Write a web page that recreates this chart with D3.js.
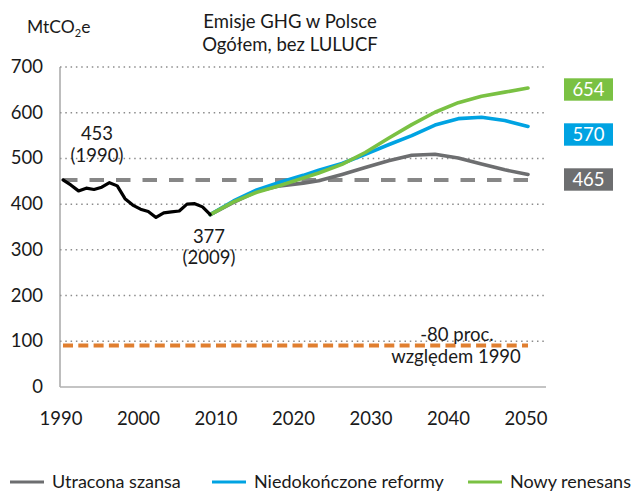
<!DOCTYPE html>
<html>
<head>
<meta charset="utf-8">
<script src="https://cdn.jsdelivr.net/npm/d3@7"></script>
<style>
  html, body { margin: 0; padding: 0; background: #fff; }
  svg { display: block; font-family: Lato, "Noto Sans", sans-serif; }
</style>
</head>
<body>
<svg id="chart" width="641" height="492"></svg>
<script>
// Historical emissions, 1990–2009 (MtCO2e)
const histYears = [1990,1991,1992,1993,1994,1995,1996,1997,1998,1999,2000,2001,2002,2003,2004,2005,2006,2007,2008,2009];
const histValues = [453,442,429,435,432,437,447,440,412,398,389,384,371,381,383,385,400,401,394,377];

// Scenario projections 2009–2050
const projYears = [2009,2012,2015,2018,2021,2023,2026,2029,2032,2035,2038,2041,2044,2047,2050];
const lostChance = [377,404,428,440,446,451,465,480,495,507,509,501,488,475,465];
const unfinishedReforms = [377,407,431,448,463,474,489,509,530,550,573,587,590,583,570];
const newRenaissance = [377,405,426,441,457,468,487,513,544,574,601,622,636,645,654];

const seriesNames = ["Utracona szansa", "Niedokończone reformy", "Nowy renesans"];
const seriesColors = ["#6d6e70", "#00a3e2", "#7ac143"];
const seriesValues = [lostChance, unfinishedReforms, newRenaissance];

const yTicks = [0,100,200,300,400,500,600,700];
const xTicks = [1990,2000,2010,2020,2030,2040,2050];

const baseline1990 = 453;
const target = baseline1990 * 0.2;  // -80% vs 1990

const svg = d3.select("#chart");

const x = d3.scaleLinear().domain([1990, 2050]).range([63, 528]);
const y = d3.scaleLinear().domain([0, 700]).range([387, 67]);
const plotLeft = 60, plotRight = 546;

// Dotted horizontal gridlines
svg.append("g").selectAll("line")
  .data(yTicks.filter(d => d > 0))
  .join("line")
  .attr("x1", plotLeft).attr("x2", plotRight)
  .attr("y1", d => y(d)).attr("y2", d => y(d))
  .attr("stroke", "#8c8c8c")
  .attr("stroke-width", 1.5)
  .attr("stroke-dasharray", "1.5,3.8");

// Axes lines
svg.append("line")
  .attr("x1", plotLeft).attr("x2", plotLeft)
  .attr("y1", y(700)).attr("y2", y(0))
  .attr("stroke", "#9a9a9a").attr("stroke-width", 1.3);
svg.append("line")
  .attr("x1", plotLeft).attr("x2", plotRight)
  .attr("y1", y(0)).attr("y2", y(0))
  .attr("stroke", "#b0b0b0").attr("stroke-width", 1.5);

// Y tick labels
svg.append("g").selectAll("text")
  .data(yTicks)
  .join("text")
  .attr("x", 43)
  .attr("y", d => y(d) + 6)
  .attr("text-anchor", "end")
  .attr("font-size", 18.5)
  .attr("fill", "#1a1a1a")
  .text(d => d);

// X tick labels
svg.append("g").selectAll("text")
  .data(xTicks)
  .join("text")
  .attr("x", d => x(d) - 2)
  .attr("y", 425)
  .attr("text-anchor", "middle")
  .attr("font-size", 18.5)
  .attr("fill", "#1a1a1a")
  .text(d => d);

// Unit label
const unit = svg.append("text")
  .attr("x", 27).attr("y", 33)
  .attr("font-size", 17.5)
  .attr("fill", "#1a1a1a");
unit.append("tspan").text("MtCO");
unit.append("tspan").attr("font-size", 11).attr("dy", 4).text("2");
unit.append("tspan").attr("dy", -4).text("e");

// Title
const title = svg.append("text")
  .attr("text-anchor", "middle")
  .attr("font-size", 18.5)
  .attr("fill", "#1a1a1a");
title.append("tspan").attr("x", 290).attr("y", 28).text("Emisje GHG w Polsce");
title.append("tspan").attr("x", 290).attr("y", 51).text("Ogółem, bez LULUCF");

// 1990 reference level (dashed gray)
svg.append("line")
  .attr("x1", x(1990)).attr("x2", x(2050))
  .attr("y1", y(baseline1990)).attr("y2", y(baseline1990))
  .attr("stroke", "#878787")
  .attr("stroke-width", 4)
  .attr("stroke-dasharray", "14.5,12");

// -80% target (dashed orange)
svg.append("line")
  .attr("x1", x(1990)).attr("x2", x(2050))
  .attr("y1", y(target)).attr("y2", y(target))
  .attr("stroke", "#e07f30")
  .attr("stroke-width", 4)
  .attr("stroke-dasharray", "10,5.3");

const line = d3.line().x(d => x(d[0])).y(d => y(d[1]));

// Scenario lines
seriesValues.forEach((vals, i) => {
  svg.append("path")
    .datum(projYears.map((yr, j) => [yr, vals[j]]))
    .attr("d", line)
    .attr("fill", "none")
    .attr("stroke", seriesColors[i])
    .attr("stroke-width", 3.6)
    .attr("stroke-linejoin", "round")
    .attr("stroke-linecap", "round");
});

// Historical line
svg.append("path")
  .datum(histYears.map((yr, j) => [yr, histValues[j]]))
  .attr("d", line)
  .attr("fill", "none")
  .attr("stroke", "#000")
  .attr("stroke-width", 3.2)
  .attr("stroke-linejoin", "round")
  .attr("stroke-linecap", "round");

// Annotations
const ann = svg.append("g")
  .attr("font-size", 18.5)
  .attr("fill", "#1a1a1a")
  .attr("text-anchor", "middle");
ann.append("text").attr("x", 97).attr("y", 140).text(histValues[0]);
ann.append("text").attr("x", 97).attr("y", 162).text("(" + histYears[0] + ")");
ann.append("text").attr("x", 209).attr("y", 243).text(histValues[histValues.length - 1]);
ann.append("text").attr("x", 209).attr("y", 264).text("(" + histYears[histYears.length - 1] + ")");
ann.append("text").attr("x", 457).attr("y", 341).text("-80 proc.");
ann.append("text").attr("x", 456).attr("y", 363).text("względem 1990");

// End-value boxes
const boxCenters = [89.5, 134.5, 179.5];
[2, 1, 0].forEach((si, k) => {
  const g = svg.append("g");
  g.append("rect")
    .attr("x", 564).attr("y", boxCenters[k] - 11.2)
    .attr("width", 49).attr("height", 22.4)
    .attr("fill", seriesColors[si]);
  g.append("text")
    .attr("x", 588.5).attr("y", boxCenters[k] + 6.5)
    .attr("text-anchor", "middle")
    .attr("font-size", 18.5)
    .attr("fill", "#fff")
    .text(seriesValues[si][seriesValues[si].length - 1]);
});

// Legend
const legendX = [10, 212, 468];
const legend = svg.append("g");
seriesNames.forEach((name, i) => {
  legend.append("line")
    .attr("x1", legendX[i]).attr("x2", legendX[i] + 34)
    .attr("y1", 482).attr("y2", 482)
    .attr("stroke", seriesColors[i])
    .attr("stroke-width", 3);
  legend.append("text")
    .attr("x", legendX[i] + 42)
    .attr("y", 488)
    .attr("font-size", 18)
    .attr("fill", "#1a1a1a")
    .text(name);
});
</script>
</body>
</html>
